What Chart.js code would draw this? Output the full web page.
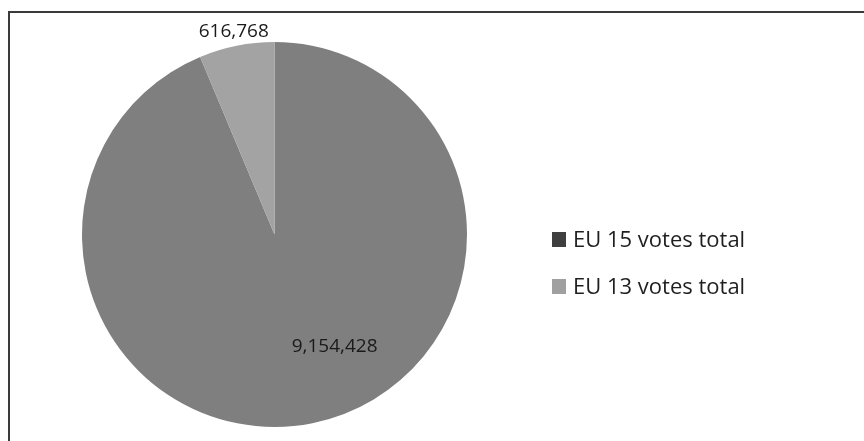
<!DOCTYPE html>
<html>
<head>
<meta charset="utf-8">
<script src="https://cdn.jsdelivr.net/npm/chart.js@4/dist/chart.umd.min.js"></script>
<style>
    html, body { margin: 0; padding: 0; background: #fff; }
    #wrap { position: relative; width: 864px; height: 441px; overflow: hidden; }
    #frame { position: absolute; left: 8px; top: 11px; width: 900px; height: 500px;
             border-top: 2px solid #3a3a3a; border-left: 2px solid #3a3a3a; }
    canvas { position: absolute; left: 0; top: 0; }
    #legend { position: absolute; left: 552px; top: 223px; font-family: "Open Sans", sans-serif;
              font-size: 22px; line-height: 30px; color: #1f1f1f; }
    .item { height: 47px; display: flex; align-items: flex-start; }
    .box { width: 14px; height: 15px; margin: 9px 7px 0 0; }
</style>
</head>
<body>
<div id="wrap">
    <div id="frame"></div>
    <canvas id="pie" width="864" height="441"></canvas>
    <div id="legend"></div>
</div>
<script>
// Daten
const categories = ['EU 15 votes total', 'EU 13 votes total'];
const votes = [9154428, 616768];
const sliceColors = ['#7f7f7f', '#a3a3a3'];
const legendColors = ['#3f3f3f', '#a0a0a0'];
// Label-Lage je Stück: Anteil am Winkel, Anteil am Radius
const labelAngleFrac = [0.45, 0.5];
const labelRadiusFrac = [0.66, 1.075];

const valueLabels = {
    id: 'valueLabels',
    afterDatasetsDraw(chart) {
        const ctx = chart.ctx;
        const meta = chart.getDatasetMeta(0);
        ctx.save();
        ctx.font = '19px "Open Sans", sans-serif';
        ctx.fillStyle = '#1a1a1a';
        ctx.textAlign = 'center';
        ctx.textBaseline = 'middle';
        meta.data.forEach((arc, i) => {
            const a = arc.startAngle + (arc.endAngle - arc.startAngle) * labelAngleFrac[i];
            const r = arc.outerRadius * labelRadiusFrac[i];
            const x = arc.x + Math.cos(a) * r;
            const y = arc.y + Math.sin(a) * r;
            ctx.fillText(votes[i].toLocaleString('en-US'), x, y);
        });
        ctx.restore();
    }
};

new Chart(document.getElementById('pie').getContext('2d'), {
    type: 'pie',
    data: {
        labels: categories,
        datasets: [{
            data: votes,
            backgroundColor: sliceColors,
            borderWidth: 0
        }]
    },
    options: {
        responsive: false,
        animation: false,
        layout: { padding: { left: 82, right: 397, top: 42, bottom: 14 } },
        plugins: {
            legend: { display: false },
            tooltip: { enabled: false }
        }
    },
    plugins: [valueLabels]
});

// Legende als HTML
const legendEl = document.getElementById('legend');
categories.forEach((name, i) => {
    const item = document.createElement('div');
    item.className = 'item';
    const box = document.createElement('div');
    box.className = 'box';
    box.style.background = legendColors[i];
    const txt = document.createElement('span');
    txt.textContent = name;
    item.appendChild(box);
    item.appendChild(txt);
    legendEl.appendChild(item);
});
</script>
</body>
</html>
